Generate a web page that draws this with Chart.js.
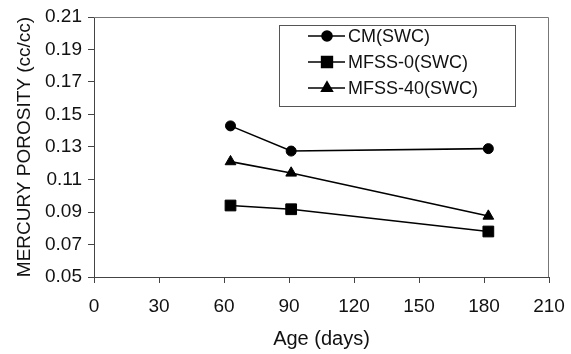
<!DOCTYPE html>
<html lang="en">
<head>
<meta charset="UTF-8">
<title>Mercury porosity</title>
<script src="https://cdn.jsdelivr.net/npm/chart.js"></script>
<style>
  html, body { margin: 0; padding: 0; background: #fff; }
  #wrap { width: 571px; height: 354px; }
</style>
</head>
<body>
<div id="wrap"><canvas id="porosityChart" width="571" height="354"></canvas></div>
<script>
  // values
  const ageDays = [63, 91, 182];
  const cmSWC = [0.143, 0.1275, 0.129];
  const mfss0SWC = [0.094, 0.0917, 0.078];
  const mfss40SWC = [0.121, 0.114, 0.0875];
  const seriesNames = ['CM(SWC)', 'MFSS-0(SWC)', 'MFSS-40(SWC)'];
  const FONT = "'Liberation Sans', Arial, sans-serif";

  function toPoints(ys) {
    return ageDays.map((x, i) => ({ x: x, y: ys[i] }));
  }

  // top/right frame of the plot area
  const framePlugin = {
    id: 'frame',
    afterDraw(chart) {
      const a = chart.chartArea, ctx = chart.ctx;
      ctx.save();
      ctx.strokeStyle = '#777';
      ctx.lineWidth = 1;
      ctx.beginPath();
      ctx.moveTo(a.left, a.top + 0.5);
      ctx.lineTo(a.right - 0.5, a.top + 0.5);
      ctx.lineTo(a.right - 0.5, a.bottom);
      ctx.stroke();
      ctx.restore();
    }
  };

  // boxed legend inside the plot, like the original
  const boxLegend = {
    id: 'boxLegend',
    afterDraw(chart) {
      const ctx = chart.ctx;
      ctx.save();
      ctx.strokeStyle = '#555';
      ctx.lineWidth = 1;
      ctx.strokeRect(279.5, 25.5, 236, 81);
      const rows = [36, 62, 88];
      chart.data.datasets.forEach((ds, i) => {
        const y = rows[i];
        ctx.strokeStyle = '#000';
        ctx.lineWidth = 1.6;
        ctx.beginPath();
        ctx.moveTo(308, y);
        ctx.lineTo(345, y);
        ctx.stroke();
        ctx.fillStyle = '#000';
        Chart.helpers.drawPoint(ctx, {
          pointStyle: ds.pointStyle,
          radius: ds.pointRadius,
          rotation: 0,
          borderWidth: 1
        }, 327, y);
        ctx.fillStyle = '#111';
        ctx.font = '18px ' + FONT;
        ctx.textAlign = 'left';
        ctx.textBaseline = 'middle';
        ctx.fillText(ds.label, 348, y + 1);
      });
      ctx.restore();
    }
  };

  const common = {
    borderColor: '#000',
    backgroundColor: '#000',
    pointBackgroundColor: '#000',
    pointBorderColor: '#000',
    borderWidth: 1.6,
    pointBorderWidth: 1,
    tension: 0
  };

  new Chart(document.getElementById('porosityChart'), {
    type: 'line',
    data: {
      datasets: [
        Object.assign({ label: seriesNames[0], data: toPoints(cmSWC), pointStyle: 'circle', pointRadius: 5 }, common),
        Object.assign({ label: seriesNames[1], data: toPoints(mfss0SWC), pointStyle: 'rect', pointRadius: 7.6 }, common),
        Object.assign({ label: seriesNames[2], data: toPoints(mfss40SWC), pointStyle: 'triangle', pointRadius: 6.2 }, common)
      ]
    },
    options: {
      responsive: false,
      animation: false,
      layout: { padding: { left: 0, right: 22, top: 17, bottom: 0 } },
      plugins: {
        legend: { display: false },
        tooltip: { enabled: false }
      },
      scales: {
        x: {
          type: 'linear',
          min: 0,
          max: 210,
          ticks: { stepSize: 30, color: '#111', font: { family: FONT, size: 19 }, padding: 12 },
          grid: { drawOnChartArea: false, drawTicks: true, tickLength: 6, color: '#444' },
          border: { display: true, color: '#444', width: 1 },
          title: { display: true, text: 'Age (days)', color: '#111', font: { family: FONT, size: 20 }, padding: { top: 4, bottom: 3 } },
          afterFit(scale) {
            scale.height = 77;
            scale.paddingLeft = 0;
            scale.paddingRight = 0;
          }
        },
        y: {
          min: 0.05,
          max: 0.21,
          ticks: {
            stepSize: 0.02,
            color: '#111',
            font: { family: FONT, size: 19 },
            padding: 6,
            callback: v => Number(v).toFixed(2)
          },
          grid: { drawOnChartArea: false, drawTicks: true, tickLength: 6, color: '#444' },
          border: { display: true, color: '#444', width: 1 },
          title: { display: true, text: 'MERCURY POROSITY (cc/cc)', color: '#111', font: { family: FONT, size: 19 }, padding: { top: 13, bottom: 4 } },
          afterFit(scale) {
            scale.width = 94;
            scale.paddingTop = 0;
            scale.paddingBottom = 0;
          }
        }
      }
    },
    plugins: [framePlugin, boxLegend]
  });
</script>
</body>
</html>
